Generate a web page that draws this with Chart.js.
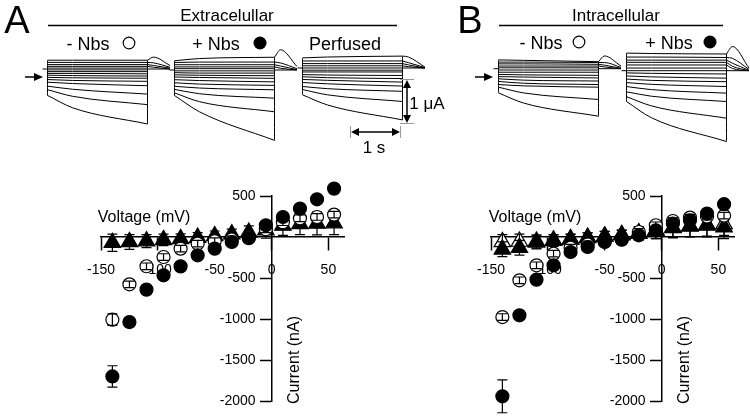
<!DOCTYPE html>
<html>
<head>
<meta charset="utf-8">
<script src="https://cdn.jsdelivr.net/npm/chart.js@4.4.1/dist/chart.umd.min.js"></script>
<style>
  body { margin: 0; background: #fff; }
  #fig { position: relative; width: 750px; height: 416px; overflow: hidden; font-family: "Liberation Sans", Arial, sans-serif; color: #000; }
  canvas { position: absolute; }
  svg { position: absolute; left: 0; top: 0; }
  .t { position: absolute; white-space: nowrap; line-height: 1; transform: translate(-50%, -50%); }
  .rot { transform: translate(-50%, -50%) rotate(-90deg); }
</style>
</head>
<body>
<div id="fig">
  <canvas id="trA1" width="135" height="115" style="left:40px;top:40px"></canvas>
  <canvas id="trA2" width="135" height="115" style="left:167px;top:40px"></canvas>
  <canvas id="trA3" width="135" height="115" style="left:295px;top:40px"></canvas>
  <canvas id="trB1" width="135" height="115" style="left:491px;top:40px"></canvas>
  <canvas id="trB2" width="135" height="115" style="left:619px;top:40px"></canvas>
  <canvas id="ivA" width="280" height="240" style="left:75px;top:176px"></canvas>
  <canvas id="ivB" width="280" height="240" style="left:465px;top:176px"></canvas>

  <svg width="750" height="416">
    <g stroke="#000" stroke-width="1.5" fill="none">
      <line x1="48" y1="25.5" x2="397" y2="25.5"/>
      <line x1="499" y1="25.5" x2="723" y2="25.5"/>
      <line x1="25" y1="77" x2="36" y2="77"/>
      <line x1="475" y1="77" x2="486" y2="77"/>
      <line x1="407" y1="86" x2="407" y2="117"/>
      <line x1="357" y1="132" x2="393" y2="132"/>
    </g>
    <g stroke="#999" stroke-width="1">
      <line x1="400" y1="79.5" x2="414" y2="79.5"/>
      <line x1="400" y1="123.5" x2="414" y2="123.5"/>
      <line x1="350.5" y1="126" x2="350.5" y2="138"/>
      <line x1="400.5" y1="126" x2="400.5" y2="138"/>
    </g>
    <g fill="#000">
      <polygon points="43,77 34,73 34,81"/>
      <polygon points="493,77 484,73 484,81"/>
      <polygon points="407,80 403,88 411,88"/>
      <polygon points="407,123 403,115 411,115"/>
      <polygon points="351,132 359,128 359,136"/>
      <polygon points="400,132 392,128 392,136"/>
    </g>
    <circle cx="129" cy="43" r="5.8" fill="#fff" stroke="#000" stroke-width="1.2"/>
    <circle cx="260" cy="43" r="6.5" fill="#000"/>
    <circle cx="579" cy="42" r="5.8" fill="#fff" stroke="#000" stroke-width="1.2"/>
    <circle cx="710" cy="42" r="6.5" fill="#000"/>
  </svg>

  <div class="t" style="left:17px;top:20px;font-size:38px">A</div>
  <div class="t" style="left:227px;top:15px;font-size:17px">Extracelullar</div>
  <div class="t" style="left:88px;top:44px;font-size:18px">- Nbs</div>
  <div class="t" style="left:216px;top:44px;font-size:18px">+ Nbs</div>
  <div class="t" style="left:345px;top:44px;font-size:18px">Perfused</div>
  <div class="t" style="left:470px;top:20px;font-size:38px">B</div>
  <div class="t" style="left:616px;top:15px;font-size:17px">Intracellular</div>
  <div class="t" style="left:541px;top:43px;font-size:18px">- Nbs</div>
  <div class="t" style="left:669px;top:43px;font-size:18px">+ Nbs</div>
  <div class="t" style="left:427px;top:103px;font-size:17px">1 μA</div>
  <div class="t" style="left:374px;top:147px;font-size:17px">1 s</div>
  <div class="t" style="left:144px;top:217px;font-size:16px">Voltage (mV)</div>
  <div class="t" style="left:535px;top:217px;font-size:16px">Voltage (mV)</div>
  <div class="t rot" style="left:294px;top:360px;font-size:16px">Current (nA)</div>
  <div class="t rot" style="left:684px;top:360px;font-size:16px">Current (nA)</div>
</div>

<script>
// ---- I-V data ----
const voltages = [-140, -125, -110, -95, -80, -65, -50, -35, -20, -5, 10, 25, 40, 55];
const voltageTicks = [-150, -100, -50, 0, 50];
const currentTicks = [500, -500, -1000, -1500, -2000];

// A: extracellular Nbs (nA)
const extMinusNbs = [-1008, -577, -357, -244, -142, -80, -50, -30, -5, 94, 180, 228, 244, 273];
const extMinusNbsErr = [70, 40, 40, 40, 40, 40, 40, 40, 40, 40, 40, 40, 40, 40];
const extPlusNbs = [-1700, -1037, -642, -467, -358, -223, -142, -61, -15, 143, 244, 346, 460, 590];
const extPlusNbsErr = [130, 55, 40, 30, 25, 20, 20, 20, 20, 20, 25, 30, 35, 45];
const extPerfused = [-70, -60, -50, -35, -23, -7, 13, 35, 55, 85, 140, 160, 165, 170];
const extPerfusedErr = [105, 90, 80, 70, 60, 60, 60, 60, 80, 100, 120, 130, 140, 140];

// B: intracellular Nbs (nA)
const intMinusNbs = [-976, -528, -345, -203, -130, -90, -55, -30, 61, 143, 195, 237, 250, 260];
const intMinusNbsErr = [40, 40, 40, 40, 40, 40, 40, 40, 40, 40, 40, 40, 40, 40];
const intPlusNbs = [-1943, -955, -520, -345, -183, -122, -61, -32, 21, 82, 163, 204, 285, 400];
const intPlusNbsErr = [200, 50, 35, 30, 25, 20, 20, 20, 20, 20, 25, 30, 35, 40];
const intTriOpen = [-60, -55, -55, -40, -25, -8, 8, 25, 45, 80, 115, 135, 150, 160];
const intTriFilled = [-150, -130, -65, -45, -28, -10, 8, 25, 45, 80, 110, 130, 140, 120];
const intTriErr = [90, 90, 80, 70, 60, 60, 60, 60, 80, 100, 120, 130, 140, 140];

// ---- current traces (uA, relative to holding current) ----
const sweepTimes = [0, 0.5, 2];      // s: start, mid, end of the voltage step
const tailTimes = [2, 2.12, 2.45];   // s: tail current after the step

const a1Start = [0.2, 0.15, 0.1, 0.06, 0.02, -0.02, -0.06, -0.1, -0.14, -0.19, -0.24, -0.3, -0.39, -0.47, -0.6];
const a1Mid   = [0.2, 0.15, 0.1, 0.06, 0.02, -0.02, -0.06, -0.1, -0.15, -0.2, -0.26, -0.33, -0.46, -0.62, -0.88];
const a1End   = [0.2, 0.15, 0.1, 0.06, 0.02, -0.02, -0.06, -0.11, -0.16, -0.21, -0.28, -0.38, -0.57, -0.81, -1.25];
const a1TailStart = [0.2, 0.15, 0.1, 0.06];
const a1TailPeak  = [0.27, 0.14, 0.08, 0.04];
const a1TailEnd   = [0.08, 0.04, 0.02, 0];

const a2Start = [0.21, 0.17, 0.12, 0.07, 0.03, -0.02, -0.06, -0.11, -0.16, -0.22, -0.29, -0.37, -0.44, -0.52, -0.58];
const a2Mid   = [0.26, 0.18, 0.12, 0.07, 0.03, -0.02, -0.07, -0.12, -0.17, -0.24, -0.32, -0.41, -0.54, -0.72, -0.95];
const a2End   = [0.29, 0.18, 0.12, 0.07, 0.03, -0.02, -0.07, -0.13, -0.19, -0.27, -0.35, -0.45, -0.64, -0.95, -1.6];
const a2TailStart = [0.29, 0.18, 0.12, 0.07];
const a2TailPeak  = [0.46, 0.16, 0.09, 0.04];
const a2TailEnd   = [0.08, 0.03, 0.01, 0];

const a3Start = [0.23, 0.16, 0.1, 0.05, 0, -0.05, -0.09, -0.15, -0.2, -0.26, -0.33, -0.42, -0.49, -0.61];
const a3Mid   = [0.25, 0.16, 0.1, 0.05, 0, -0.05, -0.09, -0.16, -0.22, -0.28, -0.36, -0.47, -0.61, -0.84];
const a3End   = [0.27, 0.16, 0.1, 0.05, 0, -0.05, -0.09, -0.17, -0.24, -0.32, -0.41, -0.53, -0.76, -1.18];
const a3TailStart = [0.27, 0.16, 0.1, 0.05];
const a3TailPeak  = [0.25, 0.12, 0.07, 0.03];
const a3TailEnd   = [0.02, 0.01, 0, 0];

const b1Start = [0.2, 0.15, 0.11, 0.06, 0.02, -0.03, -0.08, -0.13, -0.18, -0.23, -0.29, -0.36, -0.42, -0.55];
const b1Mid   = [0.19, 0.15, 0.11, 0.06, 0.02, -0.03, -0.08, -0.14, -0.19, -0.26, -0.33, -0.39, -0.55, -0.78];
const b1End   = [0.16, 0.14, 0.1, 0.06, 0.02, -0.03, -0.08, -0.15, -0.21, -0.28, -0.36, -0.42, -0.7, -1.08];
const b1TailStart = [0.16, 0.14, 0.1, 0.06];
const b1TailPeak  = [0.29, 0.14, 0.08, 0.04];
const b1TailEnd   = [0.06, 0.03, 0.01, 0];

const b2Start = [0.4, 0.31, 0.24, 0.19, 0.13, 0.06, 0, -0.05, -0.12, -0.19, -0.27, -0.36, -0.48, -0.59, -0.7];
const b2Mid   = [0.39, 0.31, 0.24, 0.19, 0.13, 0.06, 0, -0.06, -0.14, -0.22, -0.31, -0.43, -0.58, -0.8, -1.07];
const b2End   = [0.38, 0.3, 0.24, 0.19, 0.13, 0.06, 0, -0.075, -0.17, -0.25, -0.36, -0.51, -0.7, -1.08, -1.61];
const b2TailStart = [0.38, 0.3, 0.24, 0.19, 0.13];
const b2TailPeak  = [0.55, 0.28, 0.17, 0.1, 0.05];
const b2TailEnd   = [0.06, 0.03, 0.01, 0, 0];

const PX_PER_UA = 44;   // 1 uA scale bar
const PX_PER_S = 50;    // 1 s scale bar

// error bars drawn right after each dataset so later symbols cover them
const errorBars = {
  id: 'errorBars',
  afterDatasetDraw(chart, args) {
    const ds = chart.data.datasets[args.index];
    if (!ds.errors) return;
    const { ctx, scales: { x, y } } = chart;
    ctx.save();
    ctx.strokeStyle = '#000';
    ctx.lineWidth = 1.2;
    ds.data.forEach((p, i) => {
      const e = ds.errors[i];
      if (!e) return;
      const px = x.getPixelForValue(p.x);
      const top = y.getPixelForValue(p.y + e);
      const bot = y.getPixelForValue(p.y - e);
      ctx.beginPath();
      ctx.moveTo(px, top); ctx.lineTo(px, bot);
      ctx.moveTo(px - 5, top); ctx.lineTo(px + 5, top);
      ctx.moveTo(px - 5, bot); ctx.lineTo(px + 5, bot);
      ctx.stroke();
    });
    ctx.restore();
  }
};

// a y axis placed at x = 0 puts its labels right on the axis line; move them left of the ticks
const yLabelShift = {
  id: 'yLabelShift',
  beforeDraw(chart) {
    const items = chart.scales.y.getLabelItems();
    items.forEach(it => {
      if (it.shifted) return;
      it.options.translation[0] -= 16;
      it.shifted = true;
    });
  }
};

function points(values) {
  return voltages.map((v, i) => ({ x: v, y: values[i] }));
}

function series(values, errors, style) {
  const filled = style === 'filledCircle' || style === 'filledTriangle';
  const tri = style.endsWith('Triangle');
  return {
    data: points(values),
    errors: errors,
    pointStyle: tri ? 'triangle' : 'circle',
    pointRadius: tri ? 9.5 : 6.5,
    pointBackgroundColor: filled ? '#000' : '#fff',
    pointBorderColor: '#000',
    pointBorderWidth: 1.2,
    clip: false
  };
}

function ivChart(id, datasets) {
  new Chart(document.getElementById(id), {
    type: 'scatter',
    data: { datasets },
    options: {
      responsive: false,
      animation: false,
      events: [],
      layout: { padding: { left: 25, right: 8, top: 20, bottom: 15 } },
      plugins: { legend: { display: false }, tooltip: { enabled: false } },
      scales: {
        x: {
          type: 'linear', min: -150, max: 64, position: { y: 0 },
          afterBuildTicks: s => { s.ticks = voltageTicks.map(v => ({ value: v })); },
          ticks: { color: '#000', font: { family: 'Liberation Sans', size: 14 }, padding: 12, maxRotation: 0, callback: v => String(v) },
          grid: { drawOnChartArea: false, tickLength: 13, tickWidth: 1.5, tickColor: '#000' },
          border: { display: true, color: '#000', width: 1.5 }
        },
        y: {
          type: 'linear', min: -2000, max: 500, position: { x: 0 },
          afterBuildTicks: s => { s.ticks = currentTicks.map(v => ({ value: v })); },
          ticks: { color: '#000', font: { family: 'Liberation Sans', size: 14 }, callback: v => String(v) },
          grid: { drawOnChartArea: false, tickLength: 11, tickWidth: 1.5, tickColor: '#000' },
          border: { display: true, color: '#000', width: 1.5 }
        }
      }
    },
    plugins: [errorBars, yLabelShift]
  });
}

ivChart('ivA', [
  series(extPlusNbs, extPlusNbsErr, 'filledCircle'),
  series(extMinusNbs, extMinusNbsErr, 'openCircle'),
  series(extPerfused, extPerfusedErr, 'filledTriangle')
]);

ivChart('ivB', [
  series(intPlusNbs, intPlusNbsErr, 'filledCircle'),
  series(intMinusNbs, intMinusNbsErr, 'openCircle'),
  series(intTriFilled, intTriErr, 'filledTriangle'),
  series(intTriOpen, intTriErr, 'openTriangle')
]);

function traceLine(pts) {
  return {
    data: pts, borderColor: '#000', borderWidth: 1, pointRadius: 0,
    cubicInterpolationMode: 'monotone', clip: false
  };
}

// holdY: pixel row (inside the canvas) of the holding current
function traceChart(id, holdY, start, mid, end, tailStart, tailPeak, tailEnd) {
  const canvas = document.getElementById(id);
  const datasets = [];
  datasets.push(traceLine([{ x: -0.1, y: 0 }, { x: 0, y: 0 }]));
  datasets.push(traceLine([{ x: tailTimes[0], y: 0 }, { x: tailTimes[2], y: 0 }]));
  datasets.push(traceLine([{ x: 0, y: Math.max(0, ...start) }, { x: 0, y: Math.min(0, ...start) }]));
  datasets.push(traceLine([{ x: sweepTimes[2], y: Math.max(0, ...end, ...tailStart) }, { x: sweepTimes[2], y: Math.min(0, ...end) }]));
  start.forEach((s, i) => {
    const vals = [s, mid[i], end[i]];
    datasets.push(traceLine(sweepTimes.map((t, k) => ({ x: t, y: vals[k] }))));
  });
  tailStart.forEach((s, i) => {
    const vals = [s, tailPeak[i], tailEnd[i]];
    datasets.push(traceLine(tailTimes.map((t, k) => ({ x: t, y: vals[k] }))));
  });
  new Chart(canvas, {
    type: 'line',
    data: { datasets },
    options: {
      responsive: false,
      animation: false,
      events: [],
      layout: { padding: 0 },
      plugins: { legend: { display: false }, tooltip: { enabled: false } },
      scales: {
        x: { type: 'linear', display: false, min: -0.15, max: -0.15 + canvas.width / PX_PER_S },
        y: { type: 'linear', display: false, max: holdY / PX_PER_UA, min: (holdY - canvas.height) / PX_PER_UA }
      }
    }
  });
}

traceChart('trA1', 29, a1Start, a1Mid, a1End, a1TailStart, a1TailPeak, a1TailEnd);
traceChart('trA2', 30, a2Start, a2Mid, a2End, a2TailStart, a2TailPeak, a2TailEnd);
traceChart('trA3', 28, a3Start, a3Mid, a3End, a3TailStart, a3TailPeak, a3TailEnd);
traceChart('trB1', 28.7, b1Start, b1Mid, b1End, b1TailStart, b1TailPeak, b1TailEnd);
traceChart('trB2', 30.7, b2Start, b2Mid, b2End, b2TailStart, b2TailPeak, b2TailEnd);
</script>
</body>
</html>
